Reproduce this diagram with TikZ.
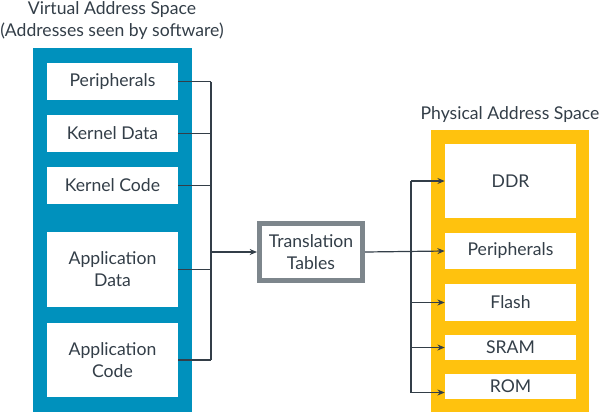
\documentclass[tikz,border=0pt]{standalone}
\usepackage{fontspec}
\setmainfont{Lato}
\usetikzlibrary{arrows.meta}
\definecolor{armblue}{HTML}{0091BD}
\definecolor{armyellow}{HTML}{FFC20E}
\definecolor{armgray}{HTML}{7D868C}
\definecolor{ink}{HTML}{333E48}
\newcommand{\px}{0.75pt}
\begin{document}
\begin{tikzpicture}[x=0.75pt, y=-0.75pt,
  every node/.style={text=ink, font=\fontsize{13.2}{16.5}\selectfont},
  region/.style={fill=white, inner sep=0pt, align=center, minimum width=131*\px},
  title/.style={align=center},
  link/.style={draw=ink, line width=0.9pt},
  arrowlink/.style={link, -{Stealth[length=5.5pt, width=4.5pt]}},
  tablebox/.style={draw=armgray, line width=5*\px, fill=white, align=center,
    minimum width=103*\px, minimum height=57*\px, inner sep=0pt}]
  \useasboundingbox (0,0) rectangle (600,412);

  % address space panels
  \fill[armblue] (33,48) rectangle (192,412);
  \fill[armyellow] (431,130) rectangle (589,412);

  % titles
  \node[title] (vtitle) at (112,21) {Virtual Address Space\\(Addresses seen by software)};
  \node[title] (ptitle) at (510,115) {Physical Address Space};

  % virtual regions
  \node[region, minimum height=37*\px] (vperiph) at (112.5,81.5) {Peripherals};
  \node[region, minimum height=37*\px] (vkdata) at (112.5,133.5) {Kernel Data};
  \node[region, minimum height=37*\px] (vkcode) at (112.5,185.5) {Kernel Code};
  \node[region, minimum height=75*\px] (vadata) at (112.5,269.5) {Application\\Data};
  \node[region, minimum height=74*\px] (vacode) at (112.5,360) {Application\\Code};

  % translation tables
  \node[tablebox] (tt) at (311,252) {Translation\\Tables};

  % physical regions
  \node[region, minimum height=74*\px] (pddr) at (510.5,181) {DDR};
  \node[region, minimum height=36*\px] (pperiph) at (510.5,251) {Peripherals};
  \node[region, minimum height=37*\px] (pflash) at (510.5,302.5) {Flash};
  \node[region, minimum height=25*\px] (psram) at (510.5,347.5) {SRAM};
  \node[region, minimum height=25*\px] (prom) at (510.5,386.5) {ROM};

  % bus junctions
  \coordinate (busL) at (211,252);
  \coordinate (busR) at (411,252);
  \coordinate (romIn) at ([yshift=-6*\px]prom.west);

  % virtual side: every region feeds the translation tables
  \foreach \n in {vperiph,vkdata,vkcode,vadata,vacode}
    \draw[link] (\n.east) -- (\n.east -| busL);
  \draw[link] (vperiph.east -| busL) -- (vacode.east -| busL);
  \draw[arrowlink] (busL) -- (tt.west);

  % physical side: tables fan out to every region
  \draw[arrowlink] (tt.east) -- (pperiph.west);
  \draw[link] (pddr.west -| busR) -- (romIn -| busR);
  \foreach \n in {pddr,pflash,psram}
    \draw[arrowlink] (\n.west -| busR) -- (\n.west);
  \draw[arrowlink] (romIn -| busR) -- (romIn);
\end{tikzpicture}
\end{document}
